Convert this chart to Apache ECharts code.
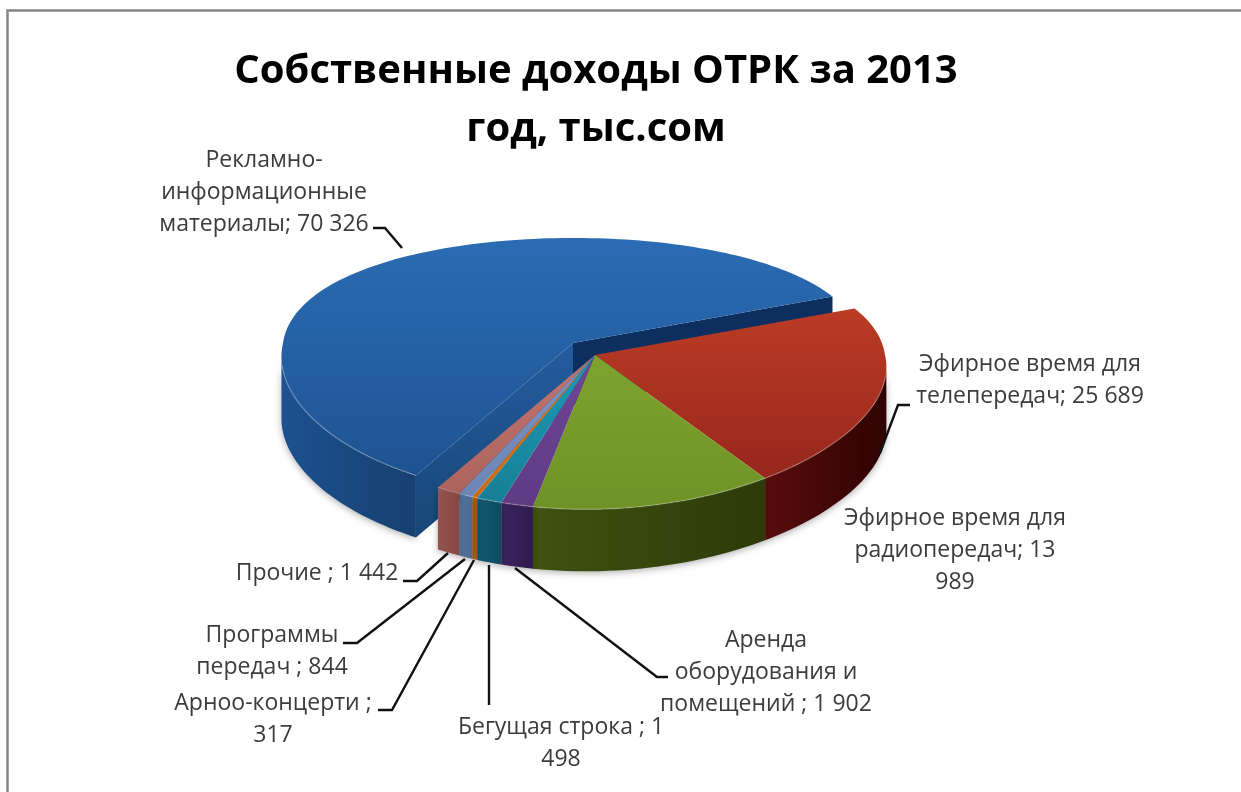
<!DOCTYPE html>
<html><head><meta charset="utf-8">
<style>html,body{margin:0;padding:0;background:#fff}#c{width:1241px;height:792px}</style>
<script src="https://cdn.jsdelivr.net/npm/echarts@6/dist/echarts.min.js"></script>
</head><body><div id="c"></div>
<script>
const categories = ['Рекламно-информационные материалы','Эфирное время для телепередач','Эфирное время для радиопередач','Аренда оборудования и помещений','Бегущая строка','Арноо-концерти','Программы передач','Прочие'];
const values = [70326,25689,13989,1902,1498,317,844,1442];
const labelTexts = [
 'Рекламно-\nинформационные\nматериалы; 70 326',
 'Эфирное время для\nтелепередач; 25 689',
 'Эфирное время для\nрадиопередач; 13\n989',
 'Аренда\nоборудования и\nпомещений ; 1 902',
 'Бегущая строка ; 1\n498',
 'Арноо-концерти ;\n317',
 'Программы\nпередач ; 844',
 'Прочие ; 1 442'
];
const titleText = 'Собственные доходы ОТРК за 2013\nгод, тыс.сом';
// Styling
const topColors = [['#2b6cb4','#1e5392'],['#bb3c25','#97261c'],['#7fa32e','#6e9226'],['#6f4696','#5f3a83'],['#1f9ab5','#167f96'],['#dc7a1e','#c96a14'],['#7f95c8','#6c86b5'],['#c07570','#ac625d']];
const sideColors = [['#1d5191','#16406f'],['#5a0c0c','#2e0202'],['#3f5210','#2d3a09'],['#3c2460','#2f1a4c'],['#125a72','#0e4a60'],['#b8600f','#a85509'],['#55759c','#4a6a90'],['#96534f','#864642']];
const labelPos = [[264,192],[1030,380],[955,550],[766,672],[561,743],[273,719],[272,651],[317,573]];
const leaders = [[[402,248],[385,228],[373,228]],[[880,453],[898,405],[910,405]],null,[[515,568],[657,677],[668,677]],[[489,565],[489,705]],[[474,560],[392,710],[378,710]],[[465,559],[357,643],[343,643]],[[448,553],[417,581],[403,581]]];
const startDeg = -23.6, apex=[595,355], apexBlue=[573,343], depth=62, rx=290, ry=125, kxFront=0.1, kxBack=0.06, ky=0.19;
const total = values.reduce((a,b)=>a+b,0);
const order = [1,2,3,4,5,6,7,0];
const ranges = {}; let acc = startDeg;
order.forEach(i=>{const s=values[i]/total*360; ranges[i]=[acc,acc+s]; acc+=s;});
const rad=d=>d*Math.PI/180;
function pt(deg,c,dy){const u=Math.cos(rad(deg)),v=Math.sin(rad(deg));
  const kx=v>0?kxFront:kxBack;
  return [c[0]+rx*u/(1-kx*v)-(v>0?9*v*v:0), c[1]+ry*v/(1-ky*v)+(dy||0)];}
function arc(a,b,c,dy){const out=[];const n=Math.max(2,Math.ceil((b-a)/1.5));for(let i=0;i<=n;i++)out.push(pt(a+(b-a)*i/n,c,dy));return out;}
const grad=(a,b,h)=>({type:'linear',x:0,y:0,x2:h?1:0,y2:h?0:1,colorStops:[{offset:0,color:a},{offset:1,color:b}]});
const font='"Open Sans","Noto Sans",sans-serif';

function renderItem(params){
  const i=params.dataIndex, [a,b]=ranges[i], c=i===0?apexBlue:apex, kids=[];
  const sa=Math.max(a,6), sb=Math.min(b,174);
  if(sb>sa){
    const up=arc(sa,sb,c,0), dn=arc(sa,sb,c,depth).reverse();
    kids.push({type:'polygon',shape:{points:up.concat(dn)},style:{fill:grad(sideColors[i][0],sideColors[i][1],true),shadowBlur:7,shadowColor:'rgba(0,0,0,.3)',shadowOffsetY:2}});
  }
  if(i===0){
    const e=pt(a,c),s=pt(b,c);
    kids.push({type:'polygon',shape:{points:[c,e,[e[0],e[1]+depth],[c[0],c[1]+depth]]},style:{fill:grad('#235c9f','#184676')}});
    kids.push({type:'polygon',shape:{points:[c,s,[s[0],s[1]+depth],[c[0],c[1]+depth]]},style:{fill:'#0c2f5f'}});
  }
  kids.push({type:'polygon',shape:{points:[c].concat(arc(a,b,c,0))},style:{fill:grad(topColors[i][0],topColors[i][1])}});
  const ha=Math.max(a,10), hb=Math.min(b,170);
  if(hb>ha){kids.push({type:'polyline',shape:{points:arc(ha,hb,c,0)},style:{stroke:'rgba(255,255,255,.2)',lineWidth:1.5,fill:'none'}});}
  if(leaders[i])kids.push({type:'polyline',shape:{points:leaders[i]},z2:5,style:{stroke:'#111',lineWidth:2.4,fill:'none'}});
  kids.push({type:'text',z2:6,style:{text:labelTexts[i],x:labelPos[i][0],y:labelPos[i][1],align:'center',verticalAlign:'middle',font:'23px '+font,lineHeight:32,fill:'#3c3c3c'}});
  return {type:'group',children:kids};
}
const chart=echarts.init(document.getElementById('c'),null,{renderer:'canvas'});
chart.setOption({
  animation:false,backgroundColor:'#fff',
  title:{text:titleText,left:591,top:38,textAlign:'center',textStyle:{fontFamily:font,fontWeight:'bold',fontSize:40,lineHeight:58,color:'#000'}},
  graphic:[{type:'polyline',silent:true,shape:{points:[[7.5,792],[7.5,10.5],[1241,10.5]]},style:{stroke:'#868686',lineWidth:2.5,fill:'none'}}],
  series:[{type:'custom',coordinateSystem:'none',renderItem,data:categories.map((n,i)=>({name:n,value:values[i]}))}]
});
</script></body></html>
